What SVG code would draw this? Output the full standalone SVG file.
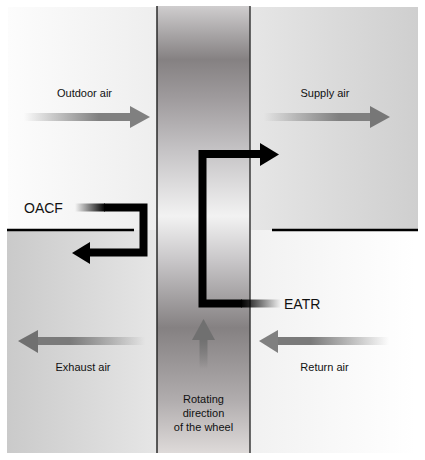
<svg xmlns="http://www.w3.org/2000/svg" width="425" height="460" viewBox="0 0 425 460">
<defs>
<linearGradient id="gTL" x1="0" y1="0" x2="1" y2="0"><stop offset="0" stop-color="#fcfcfc"/><stop offset="1" stop-color="#eeeeee"/></linearGradient>
<linearGradient id="gTR" x1="0" y1="0" x2="1" y2="0"><stop offset="0" stop-color="#e6e6e6"/><stop offset="1" stop-color="#cfcfcf"/></linearGradient>
<linearGradient id="gBL" x1="0" y1="0" x2="1" y2="0"><stop offset="0" stop-color="#cacaca"/><stop offset="1" stop-color="#e6e6e6"/></linearGradient>
<linearGradient id="gBR" x1="0" y1="0" x2="1" y2="0"><stop offset="0" stop-color="#f1f1f1"/><stop offset="1" stop-color="#ffffff"/></linearGradient>
<linearGradient id="gCol" x1="0" y1="0" x2="0" y2="1">
<stop offset="0" stop-color="#cfcdce"/>
<stop offset="0.12" stop-color="#858182"/>
<stop offset="0.21" stop-color="#a09c9e"/>
<stop offset="0.32" stop-color="#c4c2c4"/>
<stop offset="0.47" stop-color="#f2f2f2"/>
<stop offset="0.57" stop-color="#c8c6c8"/>
<stop offset="0.72" stop-color="#858182"/>
<stop offset="0.88" stop-color="#b0acad"/>
<stop offset="1" stop-color="#dedad9"/>
</linearGradient>
<linearGradient id="gR" x1="0" y1="0" x2="1" y2="0"><stop offset="0" stop-color="#808080" stop-opacity="0"/><stop offset="0.7" stop-color="#808080"/><stop offset="1" stop-color="#808080"/></linearGradient>
<linearGradient id="gL" x1="1" y1="0" x2="0" y2="0"><stop offset="0" stop-color="#7a7a7a" stop-opacity="0"/><stop offset="0.7" stop-color="#7a7a7a"/><stop offset="1" stop-color="#7a7a7a"/></linearGradient>
<linearGradient id="gUp" x1="0" y1="1" x2="0" y2="0"><stop offset="0" stop-color="#707070" stop-opacity="0"/><stop offset="1" stop-color="#707070"/></linearGradient>
<linearGradient id="gBlkR" x1="0" y1="0" x2="1" y2="0"><stop offset="0" stop-color="#000" stop-opacity="0"/><stop offset="1" stop-color="#000"/></linearGradient>
<linearGradient id="gBlkL" x1="1" y1="0" x2="0" y2="0"><stop offset="0" stop-color="#000" stop-opacity="0"/><stop offset="1" stop-color="#000"/></linearGradient>
</defs>
<style>
.lbl{font-family:"Liberation Sans",Arial,sans-serif;font-size:11px;fill:#111;text-anchor:middle}
.big{font-family:"Liberation Sans",Arial,sans-serif;font-size:14px;fill:#111}
.blk{fill:none;stroke:#000;stroke-width:8;stroke-linejoin:miter}
</style>
<rect width="425" height="460" fill="#ffffff"/>
<g id="panels">
<rect x="8" y="7" width="149" height="223" fill="url(#gTL)"/>
<rect x="250" y="7" width="168" height="223" fill="url(#gTR)"/>
<rect x="7" y="230" width="150" height="223" fill="url(#gBL)"/>
<rect x="250" y="230" width="165" height="223" fill="url(#gBR)"/>
</g>
<g id="wheel">
<rect x="157" y="6" width="93" height="447" fill="url(#gCol)"/>
<line x1="157" y1="6" x2="157" y2="453" stroke="#2a2a2a" stroke-width="1.5"/>
<line x1="250" y1="6" x2="250" y2="453" stroke="#3a3a3a" stroke-width="1.5"/>
</g>
<g id="dividers">
<line x1="7" y1="230" x2="134" y2="230" stroke="#000" stroke-width="2.5"/>
<line x1="272" y1="230" x2="418" y2="230" stroke="#000" stroke-width="2.5"/>
</g>
<g id="connectors">
<g id="outdoor-arrow">
<rect x="24" y="113" width="107" height="8" fill="url(#gR)"/>
<polygon points="130,106 150,117 130,128" fill="#808080"/>
</g>
<g id="supply-arrow">
<rect x="264" y="113" width="107" height="8" fill="url(#gR)"/>
<polygon points="370,106 390,117 370,128" fill="#777"/>
</g>
<g id="exhaust-arrow">
<rect x="37" y="337" width="108" height="8" fill="url(#gL)"/>
<polygon points="38,330 18,341 38,353" fill="#707070"/>
</g>
<g id="return-arrow">
<rect x="277" y="337" width="112" height="8" fill="url(#gL)"/>
<polygon points="278,330 259,341 278,353" fill="#808080"/>
</g>
<g id="rotate-arrow">
<rect x="199.5" y="339" width="8" height="30" fill="url(#gUp)"/>
<polygon points="192,340 203.5,319 215,340" fill="#707070"/>
</g>
<g id="oacf-path">
<rect x="75" y="203.5" width="30" height="8" fill="url(#gBlkR)"/>
<polyline class="blk" points="104,207.5 143.5,207.5 143.5,252.5 88,252.5"/>
<polygon points="90,242 72,253 90,264" fill="#000"/>
</g>
<g id="eatr-path">
<polyline class="blk" points="242,303.5 202.5,303.5 202.5,154 262,154"/>
<polygon points="260,143 279,154.5 260,166" fill="#000"/>
<rect x="241" y="299.5" width="40" height="8" fill="url(#gBlkL)"/>
</g>
</g>
<g id="labels">
<text class="lbl" x="84.5" y="97">Outdoor air</text>
<text class="lbl" x="325" y="97">Supply air</text>
<text class="lbl" x="83" y="371">Exhaust air</text>
<text class="lbl" x="324.5" y="371">Return air</text>
<text class="lbl" x="203.5" y="403">Rotating</text>
<text class="lbl" x="203.5" y="417">direction</text>
<text class="lbl" x="203.5" y="431">of the wheel</text>
<text class="big" x="24" y="213">OACF</text>
<text class="big" x="284" y="309">EATR</text>
</g>
</svg>
